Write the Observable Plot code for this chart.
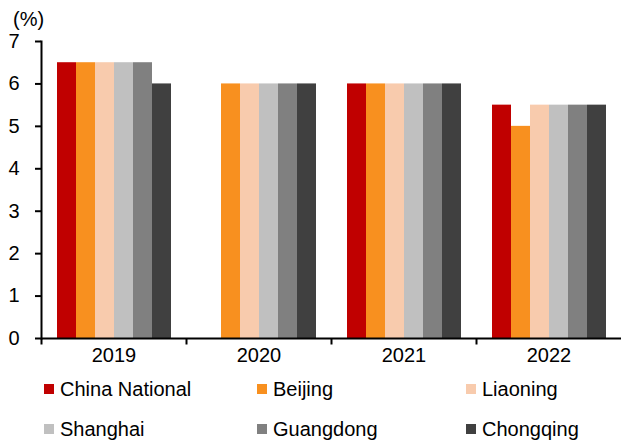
<!DOCTYPE html>
<html><head><meta charset="utf-8">
<script src="https://cdn.jsdelivr.net/npm/d3@7"></script>
<script src="https://cdn.jsdelivr.net/npm/@observablehq/plot@0.6"></script>
<style>
body{margin:0;background:#fff;font-family:"Liberation Sans",Arial,sans-serif;}
#wrap{position:relative;width:621px;height:442px;}
#unit{position:absolute;left:13px;top:8px;font-size:20px;line-height:23px;color:#000;}
#chart{position:absolute;left:0;top:0;}
#legend{position:absolute;left:44px;top:369px;display:grid;grid-template-columns:213px 209px auto;grid-auto-rows:40px;font-size:20px;color:#000;}
.item{display:flex;align-items:center;}
.sw{width:10px;height:10px;margin-right:6px;flex:none;}
#chart svg line, #chart svg path{stroke-width:2;}
</style></head><body>
<div id="wrap"><div id="chart"></div><div id="unit">(%)</div><div id="legend"></div></div>
<script>
const years = ["2019", "2020", "2021", "2022"];
const regions = ["China National", "Beijing", "Liaoning", "Shanghai", "Guangdong", "Chongqing"];
const colors = ["#C00000", "#F8901F", "#F8CBAD", "#C0C0C0", "#808080", "#404040"];
const chinaNational = [6.5, null, 6, 5.5];
const beijing = [6.5, 6, 6, 5];
const liaoning = [6.5, 6, 6, 5.5];
const shanghai = [6.5, 6, 6, 5.5];
const guangdong = [6.5, 6, 6, 5.5];
const chongqing = [6, 6, 6, 5.5];
const yTicks = [0, 1, 2, 3, 4, 5, 6, 7];

const series = [chinaNational, beijing, liaoning, shanghai, guangdong, chongqing];
const data = [];
years.forEach((yr, i) => regions.forEach((r, j) => {
  const v = series[j][i];
  if (v != null) data.push({year: yr, region: r, value: v});
}));

const tickSymbol = {draw(ctx) { ctx.moveTo(0, 0); ctx.lineTo(0, 6); }};

const chart = Plot.plot({
  width: 621,
  height: 369,
  marginLeft: 41,
  marginRight: 0,
  marginTop: 41,
  marginBottom: 31,
  style: {fontSize: "20px", fontFamily: "'Liberation Sans', Arial, sans-serif", color: "#000", background: "white", overflow: "visible"},
  fx: {domain: years, padding: 0, axis: "bottom", tickSize: 0, tickPadding: 9, label: null},
  x: {domain: regions, axis: null, paddingInner: 0, paddingOuter: 0.75},
  y: {domain: [0, 7], ticks: yTicks, tickFormat: d => String(d), tickSize: 6, tickPadding: 16, line: true, label: null},
  color: {domain: regions, range: colors},
  marks: [
    Plot.barY(data, {fx: "year", x: "region", y: "value", fill: "region"}),
    Plot.ruleY([0], {stroke: "black", strokeWidth: 2}),
    Plot.dot([0], {frameAnchor: "bottom-left", symbol: tickSymbol, stroke: "black", strokeWidth: 2, fill: "none", r: 3})
  ]
});
document.getElementById("chart").appendChild(chart);

const legend = document.getElementById("legend");
regions.forEach((r, i) => {
  const it = document.createElement("div");
  it.className = "item";
  const sw = document.createElement("span");
  sw.className = "sw";
  sw.style.background = colors[i];
  const t = document.createElement("span");
  t.textContent = r;
  it.appendChild(sw); it.appendChild(t);
  legend.appendChild(it);
});
</script>
</body></html>
